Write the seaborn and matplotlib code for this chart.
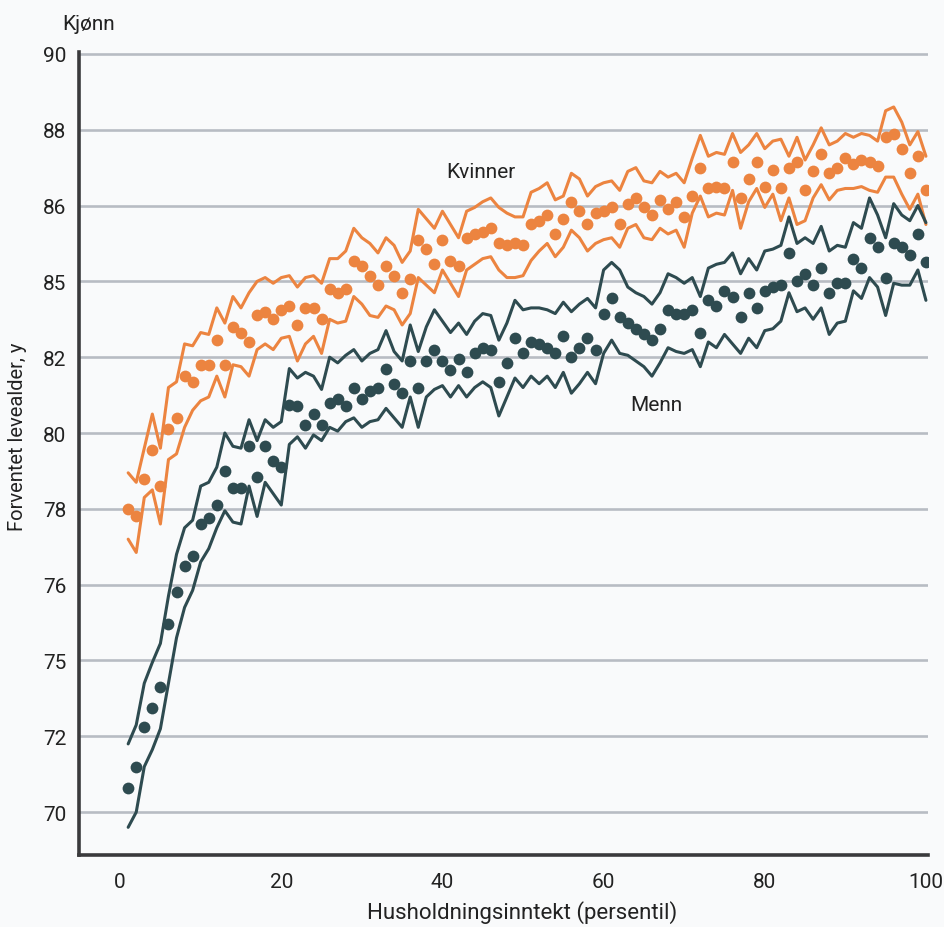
import matplotlib
matplotlib.use('Agg')
from matplotlib import pyplot as plt
import seaborn as sns
import pandas as pd

# Percentiles of household income
percentile = list(range(1, 101))

# Women (Kvinner): point estimate and upper/lower confidence bounds
women_mid = [78.0, 77.8, 78.8, 79.55, 78.6, 80.1, 80.4, 81.5, 81.35, 81.8,
             81.8, 82.45, 81.8, 82.8, 82.65, 82.4, 83.1, 83.2, 83.0, 83.25,
             83.35, 82.85, 83.3, 83.3, 83.0, 83.8, 83.7, 83.8, 84.55, 84.4,
             84.15, 83.9, 84.4, 84.15, 83.7, 84.05, 85.1, 84.85, 84.45, 85.1,
             84.55, 84.4, 85.15, 85.25, 85.3, 85.4, 85.0, 84.95, 85.0, 84.95,
             85.5, 85.6, 85.75, 85.25, 85.65, 86.1, 85.85, 85.5, 85.8, 85.85,
             85.95, 85.5, 86.05, 86.2, 85.95, 85.75, 86.15, 85.9, 86.1, 85.7,
             86.25, 87.0, 86.45, 86.5, 86.45, 87.15, 86.2, 86.7, 87.15, 86.5,
             86.95, 86.45, 87.0, 87.15, 86.4, 86.9, 87.35, 86.85, 87.0, 87.25,
             87.1, 87.2, 87.15, 87.05, 87.8, 87.9, 87.5, 86.85, 87.3, 86.4]
women_hi = [78.95, 78.7, 79.6, 80.5, 79.6, 81.2, 81.35, 82.35, 82.3, 82.65,
            82.6, 83.3, 82.9, 83.6, 83.3, 83.7, 84.0, 84.1, 83.95, 84.1,
            84.15, 83.85, 84.1, 84.15, 83.95, 84.6, 84.6, 84.8, 85.4, 85.15,
            85.0, 84.75, 85.15, 84.95, 84.5, 84.8, 85.9, 85.65, 85.4, 85.85,
            85.5, 85.15, 85.85, 85.95, 86.1, 86.2, 85.95, 85.8, 85.7, 85.7,
            86.35, 86.45, 86.6, 86.15, 86.25, 86.85, 86.7, 86.25, 86.5, 86.6,
            86.65, 86.4, 86.9, 87.0, 86.65, 86.6, 86.9, 86.75, 86.85, 86.6,
            87.25, 87.85, 87.3, 87.4, 87.35, 87.9, 87.4, 87.6, 87.9, 87.5,
            87.7, 87.75, 87.3, 87.8, 87.2, 87.6, 88.05, 87.6, 87.7, 87.9,
            87.8, 87.9, 87.85, 87.7, 88.5, 88.6, 88.2, 87.6, 87.95, 87.3]
women_lo = [77.2, 76.85, 78.3, 78.5, 77.6, 79.3, 79.45, 80.15, 80.6, 80.85,
            80.95, 81.5, 80.95, 81.8, 81.75, 81.5, 82.2, 82.35, 82.2, 82.5,
            82.55, 81.9, 82.35, 82.55, 82.1, 83.0, 82.9, 82.95, 83.6, 83.4,
            83.1, 83.05, 83.35, 83.25, 82.85, 83.15, 84.1, 83.9, 83.7, 84.3,
            83.95, 83.6, 84.3, 84.45, 84.6, 84.65, 84.3, 84.1, 84.1, 84.15,
            84.55, 84.8, 85.0, 84.65, 84.9, 85.35, 85.15, 84.8, 85.0, 85.1,
            85.15, 84.9, 85.4, 85.5, 85.15, 85.1, 85.4, 85.25, 85.35, 84.9,
            85.8, 86.25, 85.7, 85.8, 85.75, 86.4, 85.4, 86.1, 86.45, 85.95,
            86.3, 85.6, 86.2, 85.5, 85.6, 86.2, 86.55, 86.15, 86.4, 86.45,
            86.45, 86.5, 86.4, 86.35, 86.75, 86.75, 86.3, 85.9, 86.3, 85.5]

# Men (Menn)
men_mid = [70.65, 71.2, 72.25, 72.75, 73.3, 74.95, 75.8, 76.5, 76.75, 77.6,
           77.75, 78.1, 79.0, 78.55, 78.55, 79.65, 78.85, 79.65, 79.25, 79.1,
           80.75, 80.7, 80.2, 80.5, 80.2, 80.8, 80.9, 80.7, 81.2, 80.9,
           81.1, 81.2, 81.7, 81.3, 81.05, 81.9, 81.2, 81.9, 82.2, 81.9,
           81.65, 81.95, 81.6, 82.1, 82.25, 82.2, 81.35, 81.85, 82.5, 82.1,
           82.4, 82.35, 82.25, 82.1, 82.55, 82.0, 82.25, 82.5, 82.2, 83.15,
           83.55, 83.05, 82.9, 82.75, 82.6, 82.45, 82.75, 83.25, 83.15, 83.15,
           83.25, 82.65, 83.5, 83.35, 83.75, 83.6, 83.05, 83.7, 83.3, 83.75,
           83.85, 83.9, 84.75, 84.0, 84.2, 83.9, 84.35, 83.7, 83.95, 83.95,
           84.6, 84.35, 85.15, 84.9, 84.1, 85.0, 84.9, 84.7, 85.25, 84.5]
men_hi = [71.8, 72.3, 73.4, 73.95, 74.45, 75.7, 76.8, 77.5, 77.7, 78.6,
          78.7, 79.1, 80.0, 79.65, 79.6, 80.35, 79.8, 80.35, 80.15, 80.3,
          81.7, 81.45, 81.6, 81.5, 81.15, 82.0, 81.85, 82.05, 82.2, 81.9,
          82.1, 82.2, 82.7, 82.15, 81.9, 82.85, 82.15, 82.8, 83.25, 82.95,
          82.65, 82.9, 82.6, 82.95, 83.15, 83.1, 82.45, 82.9, 83.5, 83.25,
          83.3, 83.3, 83.25, 83.15, 83.45, 83.2, 83.4, 83.55, 83.3, 84.3,
          84.5, 84.3, 83.85, 83.7, 83.6, 83.4, 83.7, 84.2, 84.1, 83.95,
          84.1, 83.6, 84.35, 84.45, 84.5, 84.75, 84.2, 84.6, 84.3, 84.8,
          84.85, 84.95, 85.7, 85.0, 85.15, 85.0, 85.45, 84.8, 84.95, 84.9,
          85.55, 85.4, 86.2, 85.75, 85.15, 86.05, 85.75, 85.6, 86.0, 85.55]
men_lo = [69.6, 70.0, 71.2, 71.65, 72.2, 73.4, 74.6, 75.4, 75.85, 76.6,
          76.95, 77.5, 77.95, 77.65, 77.6, 78.6, 77.8, 78.7, 78.4, 78.1,
          79.7, 79.9, 79.6, 79.95, 79.8, 80.15, 80.05, 80.3, 80.4, 80.15,
          80.3, 80.35, 80.65, 80.4, 80.15, 80.95, 80.15, 80.95, 81.15, 81.25,
          80.95, 81.25, 80.95, 81.2, 81.35, 81.2, 80.45, 80.95, 81.45, 81.2,
          81.5, 81.3, 81.5, 81.2, 81.6, 81.05, 81.3, 81.6, 81.3, 82.1,
          82.45, 82.1, 82.05, 81.9, 81.75, 81.5, 81.85, 82.25, 82.15, 82.1,
          82.2, 81.75, 82.4, 82.25, 82.6, 82.35, 82.1, 82.5, 82.25, 82.7,
          82.75, 82.95, 83.7, 83.2, 83.3, 83.0, 83.3, 82.6, 82.9, 82.95,
          83.75, 83.55, 84.1, 83.85, 83.1, 83.95, 83.9, 83.9, 84.3, 83.5]

# Axis ticks (labels as printed in the original)
y_ticks = [70, 72, 74, 76, 78, 80, 82, 84, 86, 88, 90]
y_tick_labels = ['70', '72', '75', '76', '78', '80', '82', '85', '86', '88', '90']
x_ticks = [0, 20, 40, 60, 80, 100]

ORANGE = '#ec8440'
TEAL = '#2e4b50'
BG = '#f9fafb'


def main():
    sns.set_theme(style='white')
    plt.rcParams['font.family'] = ['Roboto', 'DejaVu Sans']

    df_w = pd.DataFrame({'p': percentile, 'mid': women_mid, 'hi': women_hi, 'lo': women_lo})
    df_m = pd.DataFrame({'p': percentile, 'mid': men_mid, 'hi': men_hi, 'lo': men_lo})

    fig = plt.figure(figsize=(9.44, 9.28), dpi=100, facecolor=BG)
    ax = fig.add_axes([0.0837, 0.0776, 0.8993, 0.8653])
    ax.set_facecolor(BG)

    # horizontal gridlines
    for yv in y_ticks:
        ax.axhline(yv, color='#b8bcc3', linewidth=1.9, zorder=0)

    for df, col in [(df_w, ORANGE), (df_m, TEAL)]:
        sns.lineplot(data=df, x='p', y='hi', color=col, linewidth=2.2, ax=ax, zorder=2)
        sns.lineplot(data=df, x='p', y='lo', color=col, linewidth=2.2, ax=ax, zorder=2)
        sns.scatterplot(data=df, x='p', y='mid', color=col, s=72, linewidth=0,
                        ax=ax, zorder=3)

    ax.set_xlim(-5.1, 100.25)
    ax.set_ylim(68.87, 90.05)
    ax.set_yticks(y_ticks)
    ax.set_yticklabels(y_tick_labels)
    ax.set_xticks(x_ticks)
    ax.set_xlabel('')
    ax.set_ylabel('')

    for side in ['top', 'right']:
        ax.spines[side].set_visible(False)
    for side in ['left', 'bottom']:
        ax.spines[side].set_color('#3a3a3c')
        ax.spines[side].set_linewidth(2.6)
    ax.tick_params(axis='both', direction='out', length=5, width=2.6,
                   color='#3a3a3c', labelsize=15, labelcolor='#222222', pad=4)
    ax.tick_params(axis='x', pad=7)

    ax.text(40.5, 86.9, 'Kvinner', fontsize=15, color='#222222', ha='left', va='center')
    ax.text(63.3, 80.75, 'Menn', fontsize=15, color='#222222', ha='left', va='center')

    fig.text(62 / 944, 1 - 25 / 928, 'Kjønn', fontsize=15, color='#222222',
             ha='left', va='center')
    fig.text(18 / 944, 1 - 437 / 928, 'Forventet levealder, y', fontsize=14.5,
             color='#222222', rotation=90, ha='center', va='center')
    fig.text(522 / 944, 1 - 913 / 928, 'Husholdningsinntekt (persentil)', fontsize=16,
             color='#222222', ha='center', va='center')

    plt.savefig('out.png', dpi=100, facecolor=BG)
    plt.clf()


if __name__ == "__main__":
    main()
